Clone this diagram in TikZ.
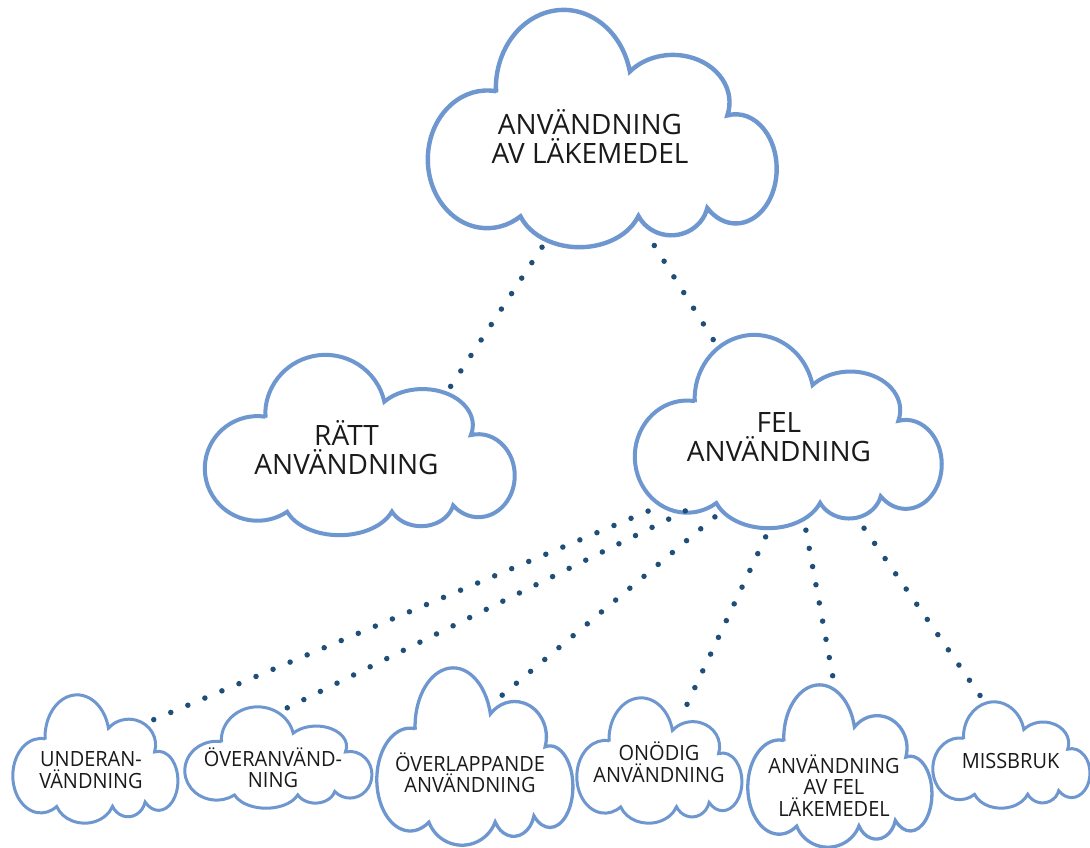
\documentclass[tikz,border=0pt]{standalone}
\usepackage{fontspec}
\setmainfont{Open Sans}
\newfontfamily\schmal{Open Sans}[FakeStretch=0.95]
\usetikzlibrary{calc}

\definecolor{wolkblau}{RGB}{110,151,208}
\definecolor{punktblau}{RGB}{31,78,121}
\definecolor{textgrau}{RGB}{26,26,26}

\tikzset{
  wolke/.style 2 args={rectangle, inner sep=0pt, minimum width=#1pt, minimum height=#2pt},
  wtext/.style={align=center, text=textgrau, inner sep=0pt},
  gross/.style={font=\fontsize{28}{29}\selectfont},
  klein/.style={font=\schmal\fontsize{21}{21.5}\selectfont},
  punkte/.style={punktblau, line width=5.5pt, line cap=round, dash pattern=on 0pt off 18.5pt},
  rand/.style={wolkblau}
}

\begin{document}
\begin{tikzpicture}[x=1pt,y=1pt]
  \path[fill=white, use as bounding box] (0,0) rectangle (1090,847);

  % Clouds
  \node[wolke={349}{237}, label={[wtext,gross,xshift=-12.5pt,yshift=-8.5pt]center:{ANVÄNDNING\\AV LÄKEMEDEL}}] (top) at (602.5,718.5) {};
  \node[wolke={310}{180}, label={[wtext,gross,xshift=-13.5pt,yshift=-2.5pt]center:{RÄTT\\ANVÄNDNING}}] (ratt) at (360,402) {};
  \node[wolke={307}{193}, label={[wtext,gross,xshift=-9.5pt,yshift=-6pt]center:{FEL\\ANVÄNDNING}}] (fel) at (788.5,415.5) {};

  \node[wolke={165}{128}, label={[wtext,klein,xshift=-4.5pt,yshift=-11pt]center:{UNDERAN-\\VÄNDNING}}] (under) at (95.5,88) {};
  \node[wolke={187}{101}, label={[wtext,klein,xshift=-5.5pt,yshift=-10.4pt]center:{ÖVERANVÄND-\\NING}}] (over) at (278.5,89.5) {};
  \node[wolke={196}{177}, label={[wtext,klein,xshift=-5pt,yshift=-16.4pt]center:{ÖVERLAPPANDE\\ANVÄNDNING}}] (overlapp) at (475,90.5) {};
  \node[wolke={165}{125}, label={[wtext,klein,xshift=-0.5pt,yshift=-1.9pt]center:{ONÖDIG\\ANVÄNDNING}}] (onodig) at (659.5,86.5) {};
  \node[wolke={184}{162}, label={[wtext,klein,xshift=-6pt,yshift=-19.4pt]center:{ANVÄNDNING\\AV FEL\\LÄKEMEDEL}}] (fellak) at (840,81) {};
  \node[wolke={157}{106}, label={[wtext,klein,xshift=-1pt,yshift=-5.5pt]center:{MISSBRUK}}] (missbruk) at (1011.5,92) {};

  % Cloud outlines
  \foreach \w/\lw in {top/4.4,ratt/4,fel/4,under/3,over/3,overlapp/3.3,onodig/3,fellak/3.3,missbruk/3}
    \draw[rand, line width=\lw pt] let \p1=(\w.south west), \p2=(\w.north east),
        \n1={\x2-\x1}, \n2={\y2-\y1} in
      ({\x1+0.1954*\n1},{\y1+0.6568*\n2})
      arc[start angle=81.4, end angle=304.1, x radius={0.17*\n1}, y radius={0.29*\n2}]
      arc[start angle=200.5, end angle=339.9, x radius={0.18*\n1}, y radius={0.2*\n2}]
      arc[start angle=207.3, end angle=346.5, x radius={0.1059*\n1}, y radius={0.15*\n2}]
      arc[start angle=-134.2, end angle=102, x radius={0.117*\n1}, y radius={0.23*\n2}]
      arc[start angle=-16, end angle=139.5, x radius={0.162*\n1}, y radius={0.2*\n2}]
      arc[start angle=12.3, end angle=183, x radius={0.194*\n1}, y radius={0.33*\n2}]
      -- cycle;

  % Dotted connectors
  \draw[punkte, shorten >=-44pt] (top.-117) -- (ratt.39.4);
  \draw[punkte, shorten <=-2pt, shorten >=-12pt] (top.-66.4) -- (fel.129.3);
  \foreach \a/\ziel/\b/\s/\e in {-151.1/under/31.8/-14.4/-35.8, -145.2/over/78.1/-38.9/-8.3,
      -132/overlapp/56.3/-17.6/-48.8, -101.8/onodig/64.6/9.6/-14, -80.5/fellak/94.4/2/2.3,
      -52/missbruk/117/0/0}
    \draw[punkte, shorten <=\s pt, shorten >=\e pt] (fel.\a) -- (\ziel.\b);
\end{tikzpicture}
\end{document}
